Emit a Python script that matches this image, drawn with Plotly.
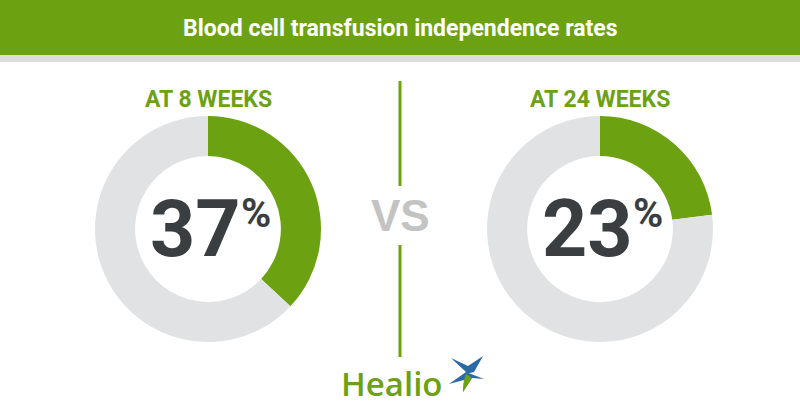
import plotly.graph_objects as go

title = "Blood cell transfusion independence rates"
labels = ["AT 8 WEEKS", "AT 24 WEEKS"]
rates = [37, 23]

GREEN = "#6ca212"
GRAY = "#e1e2e3"
DARK = "#3a3e40"
W, H = 800, 420


def px_x(x):
    return x / W


def px_y(y):
    # pixel from top -> paper coordinate
    return 1 - y / H


fig = go.Figure()

# donut domains, one per period
domains = [[95, 321], [487, 713]]

for lab, r, dx in zip(labels, rates, domains):
    fig.add_trace(go.Pie(
        values=[r, 100 - r],
        labels=[lab, "other"],
        hole=0.645,
        sort=False,
        direction="clockwise",
        rotation=0,
        marker=dict(colors=[GREEN, GRAY], line=dict(width=0)),
        textinfo="none",
        hoverinfo="skip",
        showlegend=False,
        domain=dict(x=[px_x(dx[0]), px_x(dx[1])], y=[px_y(342), px_y(116)]),
    ))
    cx = (dx[0] + dx[1]) / 2
    fig.add_annotation(x=px_x(cx), y=px_y(99), text="<b>%s</b>" % lab,
                       showarrow=False, xanchor="center", yanchor="middle",
                       font=dict(family="Roboto", size=23, color=GREEN))
    fig.add_annotation(x=px_x(cx + 35), y=px_y(229), text="<b>%d</b>" % r,
                       showarrow=False, xanchor="right", yanchor="middle",
                       font=dict(family="Roboto", size=79, color=DARK))
    fig.add_annotation(x=px_x(cx + 31), y=px_y(213), text="<b>%</b>",
                       showarrow=False, xanchor="left", yanchor="middle",
                       font=dict(family="Roboto", size=41, color=DARK))

# header band
fig.add_shape(type="rect", xref="paper", yref="paper", x0=0, x1=1,
              y0=px_y(55), y1=1, fillcolor=GREEN, line_width=0, layer="below")
fig.add_shape(type="rect", xref="paper", yref="paper", x0=0, x1=1,
              y0=px_y(62), y1=px_y(55), fillcolor="#dcdcdc",
              line_width=0, layer="below")
fig.add_annotation(x=0.5, y=px_y(29), xref="paper", yref="paper",
                   text="<b>%s</b>" % title, showarrow=False,
                   xanchor="center", yanchor="middle",
                   font=dict(family="Roboto", size=23, color="white"))

# VS divider
for y0, y1 in [(81, 186), (245, 357)]:
    fig.add_shape(type="line", xref="paper", yref="paper", x0=0.5, x1=0.5,
                  y0=px_y(y1), y1=px_y(y0),
                  line=dict(color=GREEN, width=3))
fig.add_annotation(x=0.5, y=px_y(216), text="<b>VS</b>", showarrow=False,
                   xanchor="center", yanchor="middle",
                   font=dict(family="Liberation Sans", size=44, color="#c3c3c3"))

# Healio logo
fig.add_annotation(x=px_x(392), y=px_y(383), text="Healio", showarrow=False,
                   xanchor="center", yanchor="middle",
                   font=dict(family="Open Sans", size=33, color=GREEN, weight=600))
star_blue = [(466, 372), (451, 358), (468, 366), (483, 356), (474, 372), (466, 374)]
star_green = [(466, 372), (484, 379), (472, 378), (463, 392), (464, 380), (449, 384)]


def path(pts):
    return "M " + " L ".join("%.4f,%.4f" % (px_x(a), px_y(b)) for a, b in pts) + " Z"


fig.add_shape(type="path", xref="paper", yref="paper", path=path(star_blue),
              fillcolor="#2a6aa6", line_width=0)
fig.add_shape(type="path", xref="paper", yref="paper", path=path(star_green),
              fillcolor="#2a6aa6", line_width=0)
fig.add_shape(type="path", xref="paper", yref="paper",
              path=path([(466, 374), (472, 378), (463, 392), (464, 380)]),
              fillcolor=GREEN, line_width=0)

fig.update_layout(
    width=W, height=H,
    margin=dict(l=0, r=0, t=0, b=0),
    paper_bgcolor="white", plot_bgcolor="white",
)

fig.write_html("out.html", config={"displayModeBar": False},
               post_script="document.body.style.margin='0';")
